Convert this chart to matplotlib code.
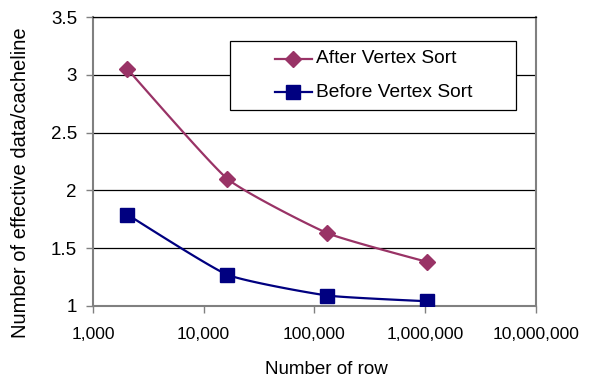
import numpy as np
from matplotlib import pyplot as plt
from matplotlib.ticker import FuncFormatter, NullLocator
import matplotlib.patches as patches

# rows per table and effective data per cacheline
rows = [2048, 16384, 131072, 1048576]
after_sort = [3.05, 2.10, 1.63, 1.38]
before_sort = [1.79, 1.27, 1.09, 1.04]
series_names = ['After Vertex Sort', 'Before Vertex Sort']

plt.rcParams['font.family'] = ['Liberation Sans', 'DejaVu Sans']


def smooth(xs, ys, n=30, k=0.08):
    # bezier smoothing through the points in log-x space ("smoothed line")
    lx = np.log10(xs)
    ys = np.asarray(ys, dtype=float)
    px = np.concatenate([[lx[0]], lx, [lx[-1]]])
    py = np.concatenate([[ys[0]], ys, [ys[-1]]])
    out_x, out_y = [], []
    for i in range(1, len(px) - 2):
        p0 = np.array([px[i], py[i]])
        p3 = np.array([px[i + 1], py[i + 1]])
        c1 = p0 + k * (np.array([px[i + 1], py[i + 1]]) - np.array([px[i - 1], py[i - 1]]))
        c2 = p3 - k * (np.array([px[i + 2], py[i + 2]]) - np.array([px[i], py[i]]))
        t = np.linspace(0, 1, n)[:, None]
        seg = ((1 - t) ** 3) * p0 + 3 * ((1 - t) ** 2) * t * c1 + 3 * (1 - t) * t ** 2 * c2 + t ** 3 * p3
        out_x.extend(seg[:, 0])
        out_y.extend(seg[:, 1])
    return 10 ** np.array(out_x), np.array(out_y)


fig = plt.figure(figsize=(5.92, 3.8), dpi=100)
ax = fig.add_axes([0.157, 0.195, 0.748, 0.76])

styles = [('#993366', 'D', 8.5), ('#000080', 's', 9.5)]
for ys, (col, mk, ms) in zip([after_sort, before_sort], styles):
    sx, sy = smooth(rows, ys)
    ax.plot(sx, sy, color=col, lw=1.6, zorder=3)
    ax.plot(rows, ys, ls='none', marker=mk, ms=ms, color=col, zorder=4)

ax.set_xscale('log')
ax.set_xlim(1000, 1e7)
ax.set_ylim(1, 3.5)
ax.set_yticks([1, 1.5, 2, 2.5, 3, 3.5])
ax.set_yticklabels(['1', '1.5', '2', '2.5', '3', '3.5'])
ax.xaxis.set_minor_locator(NullLocator())
ax.xaxis.set_major_formatter(FuncFormatter(lambda v, p: '{:,.0f}'.format(v)))
ax.yaxis.grid(True, color='black', lw=0.9)
ax.set_axisbelow(True)

for s in ['right', 'bottom', 'left']:
    ax.spines[s].set_color('#808080')
    ax.spines[s].set_linewidth(1.5)
ax.spines['top'].set_color('black')
ax.spines['top'].set_linewidth(0.9)
ax.tick_params(axis='both', length=5, width=1, color='#808080')
ax.tick_params(axis='x', labelsize=12.6, pad=10)
ax.tick_params(axis='y', labelsize=13.5, pad=6.5)

fig.text(326 / 592, 1 - 370 / 380, 'Number of row', fontsize=13.5, ha='center', va='center')
fig.text(21 / 592, 1 - 183 / 380, 'Number of effective data/cacheline', fontsize=14.5,
         rotation=90, ha='center', va='center')

# legend box drawn by hand in axes fractions
ax.add_patch(patches.Rectangle((0.309, 0.678), 0.646, 0.239, transform=ax.transAxes,
                               facecolor='white', edgecolor='black', lw=0.9, zorder=5))
for name, (col, mk, ms), yy in zip(series_names, styles, [0.855, 0.740]):
    ax.plot([0.411, 0.494], [yy, yy], color=col, lw=1.6, transform=ax.transAxes, zorder=6)
    ax.plot([0.4525], [yy], marker=mk, ms=ms, color=col, transform=ax.transAxes, zorder=7)
    ax.text(0.503, yy, name, transform=ax.transAxes, fontsize=13.8, va='center', ha='left', zorder=7)

plt.savefig('out.png', dpi=100)
